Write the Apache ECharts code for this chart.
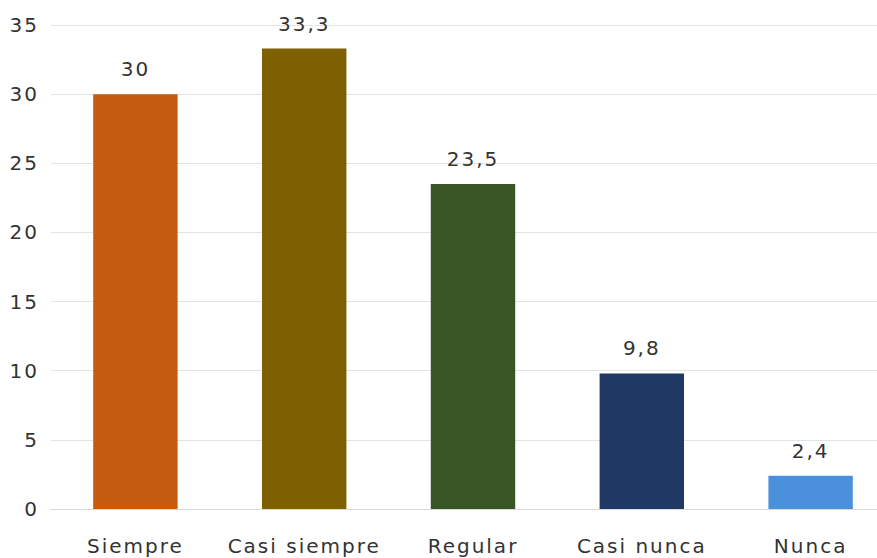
<!DOCTYPE html>
<html>
<head>
<meta charset="utf-8">
<script src="https://cdn.jsdelivr.net/npm/echarts@6/dist/echarts.min.js"></script>
<style>
  html, body { margin: 0; padding: 0; background: #ffffff; overflow: hidden; }
  #chart { width: 877px; height: 558px; }
  /* wide, open lettering for every chart text */
  #chart svg text { letter-spacing: 2px; }
</style>
</head>
<body>
<div id="chart"></div>
<script>
// Response frequency (percent)
const categories = ['Siempre', 'Casi siempre', 'Regular', 'Casi nunca', 'Nunca'];
const values = [30, 33.3, 23.5, 9.8, 2.4];
const barColors = ['#C55A11', '#7F6000', '#375623', '#203864', '#4A90DA'];
const yTicks = [0, 5, 10, 15, 20, 25, 30, 35];

const fontFamily = 'DejaVu Sans';
const textColor = '#333333';

const chart = echarts.init(document.getElementById('chart'), null, { renderer: 'svg' });

chart.setOption({
  animation: false,
  backgroundColor: '#ffffff',
  grid: {
    left: 51, top: 25, width: 844, bottom: 49,
    containLabel: false,
    outerBoundsMode: 'none'
  },
  xAxis: {
    type: 'category',
    data: categories,
    axisLine: { show: true, lineStyle: { color: '#d9d9d9', width: 1 } },
    axisTick: { show: false },
    axisLabel: { color: textColor, fontFamily: fontFamily, fontSize: 20, margin: 27 }
  },
  yAxis: {
    type: 'value',
    min: yTicks[0],
    max: yTicks[yTicks.length - 1],
    interval: yTicks[1] - yTicks[0],
    axisLine: { show: false },
    axisTick: { show: false },
    splitLine: { lineStyle: { color: '#e3e3e3', width: 1 } },
    axisLabel: { color: textColor, fontFamily: fontFamily, fontSize: 20, margin: 12 }
  },
  series: [{
    type: 'bar',
    barWidth: '50%',
    data: values.map((v, i) => ({ value: v, itemStyle: { color: barColors[i] } })),
    label: {
      show: true,
      position: 'top',
      distance: 15,
      color: textColor,
      fontFamily: fontFamily,
      fontSize: 20,
      formatter: p => String(p.value).replace('.', ',')
    }
  }]
});
</script>
</body>
</html>
